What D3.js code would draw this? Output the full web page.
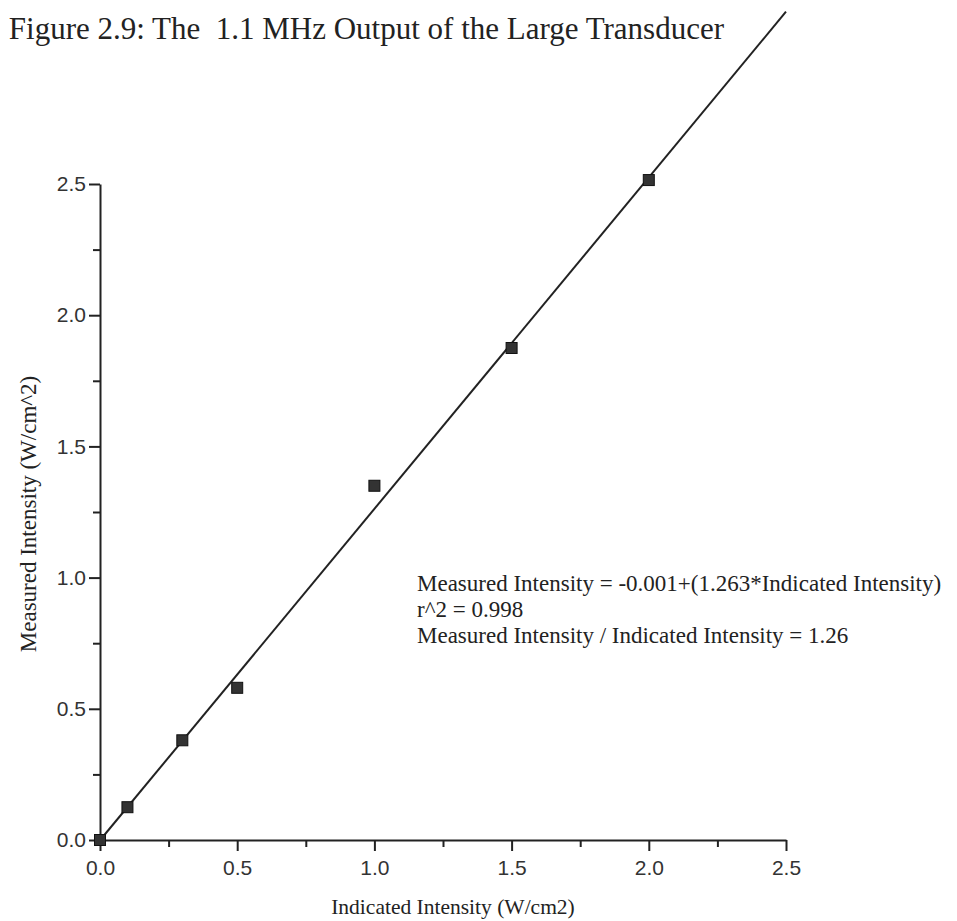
<!DOCTYPE html>
<html>
<head>
<meta charset="utf-8">
<script src="https://cdn.jsdelivr.net/npm/d3@7"></script>
<style>
  html, body { margin: 0; padding: 0; background: #fff; }
  svg { display: block; }
</style>
</head>
<body>
<svg id="chart" width="957" height="921"></svg>
<script>
// data
const indicated = [0, 0.1, 0.3, 0.5, 1.0, 1.5, 2.0];
const measured = [0, 0.125, 0.38, 0.58, 1.35, 1.875, 2.515];
const xTicks = [0, 0.5, 1.0, 1.5, 2.0, 2.5];
const yTicks = [0, 0.5, 1.0, 1.5, 2.0, 2.5];
const minorTicks = [0.25, 0.75, 1.25, 1.75, 2.25];
const fitIntercept = -0.001;
const fitSlope = 1.263;
const fitRange = [0, 2.5];
const noteLines = [
  "Measured Intensity = -0.001+(1.263*Indicated Intensity)",
  "r^2 = 0.998",
  "Measured Intensity / Indicated Intensity = 1.26"
];

const svg = d3.select("#chart");
const ink = "#222";
const serif = "'Liberation Serif', 'Times New Roman', serif";

const x = d3.scaleLinear().domain([0, 2.5]).range([100, 786]);
const y = d3.scaleLinear().domain([0, 2.5]).range([840, 184]);

// title
svg.append("text")
  .attr("x", 724).attr("y", 39)
  .attr("text-anchor", "end")
  .style("font-family", serif)
  .style("font-size", "31px")
  .attr("fill", ink)
  .text("Figure 2.9: The \u00a01.1 MHz Output of the Large Transducer");

// axes
svg.append("g").attr("transform", "translate(0,840)")
  .call(d3.axisBottom(x).tickValues(xTicks).tickFormat(d3.format(".1f")).tickSize(11).tickSizeOuter(0).tickPadding(9));
svg.append("g").attr("transform", "translate(0,840)")
  .call(d3.axisBottom(x).tickValues(minorTicks).tickFormat("").tickSize(7).tickSizeOuter(0))
  .select(".domain").remove();

svg.append("g").attr("transform", "translate(100,0)")
  .call(d3.axisLeft(y).tickValues(yTicks).tickFormat(d3.format(".1f")).tickSize(11).tickSizeOuter(0).tickPadding(3));
svg.append("g").attr("transform", "translate(100,0)")
  .call(d3.axisLeft(y).tickValues(minorTicks).tickFormat("").tickSize(7).tickSizeOuter(0))
  .select(".domain").remove();

svg.selectAll(".domain, .tick line").attr("stroke", ink).attr("stroke-width", 2);
svg.selectAll(".tick text")
  .style("font-family", "'Liberation Sans', Arial, sans-serif")
  .style("font-size", "21px")
  .attr("fill", "#333");

// regression line
const fit = d3.line().x(d => x(d)).y(d => y(fitIntercept + fitSlope * d));
svg.append("path")
  .datum(fitRange)
  .attr("d", fit)
  .attr("fill", "none")
  .attr("stroke", ink)
  .attr("stroke-width", 2);

// measured points
svg.selectAll("rect.pt")
  .data(indicated.map((v, i) => [v, measured[i]]))
  .join("rect")
  .attr("class", "pt")
  .attr("x", d => x(d[0]) - 5.5)
  .attr("y", d => y(d[1]) - 5.5)
  .attr("width", 11).attr("height", 11)
  .attr("fill", "#333")
  .attr("stroke", "#111")
  .attr("stroke-width", 1);

// axis titles
svg.append("text")
  .attr("x", 453).attr("y", 914)
  .attr("text-anchor", "middle")
  .style("font-family", serif)
  .style("font-size", "21.5px")
  .attr("fill", ink)
  .text("Indicated Intensity (W/cm2)");

svg.append("text")
  .attr("transform", "translate(36,514) rotate(-90)")
  .attr("text-anchor", "middle")
  .style("font-family", serif)
  .style("font-size", "23px")
  .attr("fill", ink)
  .text("Measured Intensity (W/cm^2)");

// fit annotation
svg.append("g").selectAll("text")
  .data(noteLines)
  .join("text")
  .attr("x", 417)
  .attr("y", (d, i) => 591 + i * 26)
  .style("font-family", serif)
  .style("font-size", "23px")
  .attr("fill", ink)
  .text(d => d);
</script>
</body>
</html>
